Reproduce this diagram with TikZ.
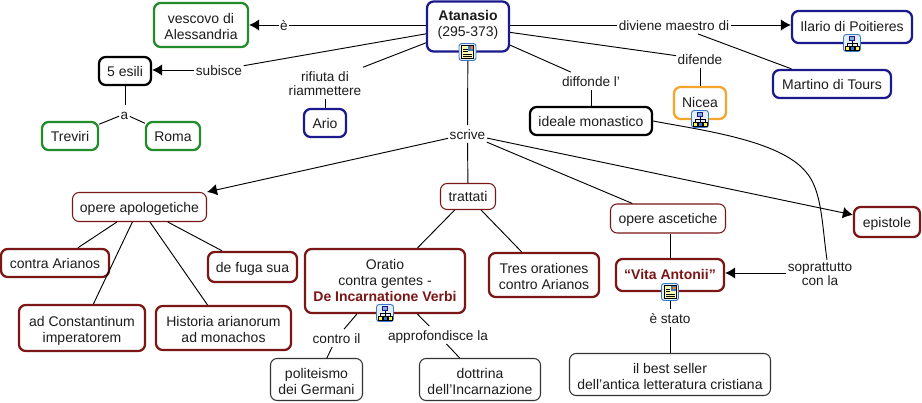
\documentclass[tikz,border=0pt]{standalone}
\usepackage{fontspec}
\setmainfont{Liberation Sans}
\usetikzlibrary{arrows.meta}
\definecolor{cgreen}{HTML}{228B2B}
\definecolor{cnavy}{HTML}{1A1A8C}
\definecolor{corange}{HTML}{F5A52A}
\definecolor{cred}{HTML}{7A1616}
\definecolor{ctext}{HTML}{1C1C1C}
\definecolor{iconblue}{HTML}{3B78C8}
\definecolor{iconfill}{HTML}{E4EEFA}
\newcommand{\deep}[1]{\rule[-#1]{0pt}{#1}}
\newcommand{\lift}{\rule{0pt}{12.6pt}}
\newcommand{\lblstrut}{\rule[-2.4pt]{0pt}{13pt}}
\tikzset{
  x=0.75pt,y=-0.75pt,
  sz/.style 2 args={minimum width=#1*0.75pt,minimum height=#2*0.75pt},
  box/.style={rectangle,rounded corners=5pt,draw,fill=white,inner sep=0pt,align=center,
    text=ctext,font=\fontsize{10.5}{12}\selectfont,
    execute at begin node=\lblstrut,execute at end node=\lblstrut},
  thick box/.style={box,line width=1.7pt},
  thin box/.style={box,line width=0.8pt},
  greenbox/.style={thick box,draw=cgreen},
  navybox/.style={thick box,draw=cnavy},
  blackbox/.style={thick box,draw=black},
  orangebox/.style={thick box,draw=corange},
  redbox/.style={thick box,draw=cred},
  redthin/.style={thin box,draw=cred},
  blackthin/.style={thin box,draw=black!80},
  lbl/.style={rectangle,fill=white,inner xsep=1pt,inner ysep=0pt,align=center,text=ctext,
    font=\fontsize{10.2}{10.7}\selectfont,
    execute at begin node=\lblstrut,execute at end node=\lblstrut},
  conn/.style={line width=0.7pt,draw=black},
  arr/.style={conn,-{Latex[length=7.5pt,width=8.5pt]}},
  docicon/.pic={
    \draw[iconblue,fill=iconfill,line width=0.7pt,rounded corners=2pt] (-8.5,-8.5) rectangle (8.5,8.5);
    \draw[black,fill=yellow!30,line width=0.6pt] (-6,-6.5) rectangle (6,6.5);
    \fill[iconblue] (0.5,-6) rectangle (5.5,-1);
    \fill[orange] (3,-5.5) rectangle (5.5,-3);
    \foreach \q in {-3,-0.5,2,4.5}{\draw[black,line width=0.5pt] (-4.5,\q) -- (0,\q);}
    \foreach \q in {2,4.5}{\draw[black,line width=0.5pt] (0,\q) -- (4.5,\q);}
  },
  hericon/.pic={
    \draw[iconblue,fill=iconfill,line width=0.7pt,rounded corners=2pt] (-8.5,-8.5) rectangle (8.5,8.5);
    \draw[black,line width=0.4pt] (0,-3) -- (0,3) (-5,3) -- (-5,0) -- (5,0) -- (5,3);
    \draw[cnavy,fill=iconblue!60,line width=0.5pt] (-2.5,-7) rectangle (2.5,-3);
    \draw[black,fill=yellow!70,line width=0.4pt] (-7,3) rectangle (-3,7);
    \draw[black,fill=iconblue,line width=0.4pt] (-2,3) rectangle (2,7);
    \draw[black,fill=yellow!70,line width=0.4pt] (3,3) rectangle (7,7);
  }
}
\begin{document}
\begin{tikzpicture}
\useasboundingbox[fill=white] (0,0) rectangle (922,403);
% concepts
\node[navybox,sz={82}{50}] (atanasio) at (468,26.5) {\lift\textbf{Atanasio}\\(295-373)\deep{9pt}};
\node[greenbox,sz={94}{44}] (vescovo) at (201,25) {\lift vescovo di\\Alessandria};
\node[blackbox,sz={52}{28}] (esili) at (125,71) {5 esili};
\node[greenbox,sz={56}{28}] (treviri) at (70,136) {Treviri};
\node[greenbox,sz={54}{28}] (roma) at (173,136) {Roma};
\node[navybox,sz={42}{28}] (ario) at (325,123) {Ario};
\node[navybox,sz={120}{32}] (ilario) at (852,27) {Ilario di Poitieres\deep{4.5pt}};
\node[navybox,sz={118}{28}] (martino) at (832,84) {Martino di Tours};
\node[orangebox,sz={52}{32}] (nicea) at (700,103) {Nicea\deep{4.5pt}};
\node[blackbox,sz={122}{28}] (ideale) at (591,121) {ideale monastico};
\node[redthin,sz={134}{29}] (apolog) at (139.5,207) {opere apologetiche};
\node[redthin,sz={55}{26}] (trattati) at (468,196.5) {trattati};
\node[redthin,sz={115}{29}] (ascet) at (668,218.5) {opere ascetiche};
\node[redbox,sz={66}{30}] (epistole) at (887,222) {epistole};
\node[redbox,sz={108}{28}] (contra) at (55,263) {contra Arianos};
\node[redbox,sz={89}{30}] (fuga) at (252.5,267) {de fuga sua};
\node[redbox,sz={126}{46}] (const) at (82,328) {\lift ad Constantinum\\imperatorem};
\node[redbox,sz={135}{44}] (historia) at (223.5,328) {\lift Historia arianorum\\ad monachos};
\node[redbox,sz={160}{64}] (oratio) at (385,281) {\lift Oratio\\contra gentes -\\\textcolor{cred}{\textbf{De Incarnatione Verbi}}\deep{5.7pt}};
\node[redbox,sz={110}{44}] (tres) at (544,275) {\lift Tres orationes\\contro Arianos};
\node[redbox,sz={108}{32}] (vita) at (670,275) {\textcolor{cred}{\textbf{“Vita Antonii”}}\deep{4.5pt}};
\node[blackthin,sz={92}{42}] (polit) at (316.5,379.5) {\lift politeismo\\dei Germani};
\node[blackthin,sz={121}{42}] (dottrina) at (480,379.5) {\lift dottrina\\dell'Incarnazione};
\node[blackthin,sz={201}{42}] (best) at (670,374.5) {\lift il best seller\\dell'antica letteratura cristiana};
% link labels
\node[lbl] (le) at (284,25) {è};
\node[lbl] (lsub) at (219,70) {subisce};
\node[lbl] (la) at (124.5,114) {a};
\node[lbl] (lrif) at (325,82) {\lift rifiuta di\\riammettere};
\node[lbl] (ldiv) at (674,25) {diviene maestro di};
\node[lbl] (ldif) at (700,59) {difende};
\node[lbl] (ldiff) at (591,81) {diffonde l'};
\node[lbl] (lscr) at (467.5,134) {scrive};
\node[lbl] (lsop) at (820,272) {\lift soprattutto\\con la};
\node[lbl] (lsta) at (670,318) {è stato};
\node[lbl] (lcon) at (336.5,338) {contro il};
\node[lbl] (lapp) at (438,335) {approfondisce la};
\coordinate (bend) at (806,172);
\coordinate (soprtop) at (827,260);
% connectors
\draw[conn] (atanasio.west |- le) -- (le);
\draw[arr] (le) -- (le -| vescovo.east);
\draw[conn] (atanasio) -- (lsub);
\draw[arr] (lsub) -- (lsub -| esili.east);
\draw[conn] (esili) -- (esili |- la.north);
\draw[conn] (la) -- (treviri);
\draw[conn] (la) -- (roma);
\draw[conn] (atanasio) -- (lrif);
\draw[conn] (lrif) -- (ario);
\draw[conn] (atanasio.east |- ldiv) -- (ldiv);
\draw[arr] (ldiv) -- (ldiv -| ilario.west);
\draw[conn] (ldiv) -- (martino);
\draw[conn] (atanasio) -- (ldif);
\draw[conn] (ldif) -- (nicea);
\draw[conn] (atanasio) -- (ldiff);
\draw[conn] (ldiff) -- (ideale);
\draw[conn] (atanasio) -- (lscr);
\draw[conn] (lscr) -- (trattati);
\draw[arr] (lscr) -- (apolog);
\draw[conn] (lscr) -- (ascet);
\draw[arr] (lscr) -- (epistole);
\draw[conn] (apolog) -- (contra);
\draw[conn] (apolog) -- (const);
\draw[conn] (apolog) -- (historia);
\draw[conn] (apolog) -- (fuga);
\draw[conn] (trattati) -- (oratio);
\draw[conn] (trattati) -- (tres);
\draw[conn] (ascet.south -| vita) -- (vita);
\draw[conn] (oratio) -- (lcon);
\draw[conn] (lcon) -- (polit);
\draw[conn] (oratio) -- (lapp);
\draw[conn] (lapp) -- (dottrina);
\draw[conn] (vita) -- (lsta);
\draw[conn] (lsta) -- (best);
\draw[conn] (ideale.east) .. controls (700,130) and (780,140) .. (bend) .. controls (822,190) and (822,225) .. (soprtop);
\draw[arr] (lsop.west |- 0,273) -- (vita.east |- 0,273);
% icons
\pic at (467.5,52) {docicon};
\pic at (670,292) {docicon};
\pic at (852,43) {hericon};
\pic at (700,119) {hericon};
\pic at (385,313) {hericon};
\end{tikzpicture}
\end{document}
